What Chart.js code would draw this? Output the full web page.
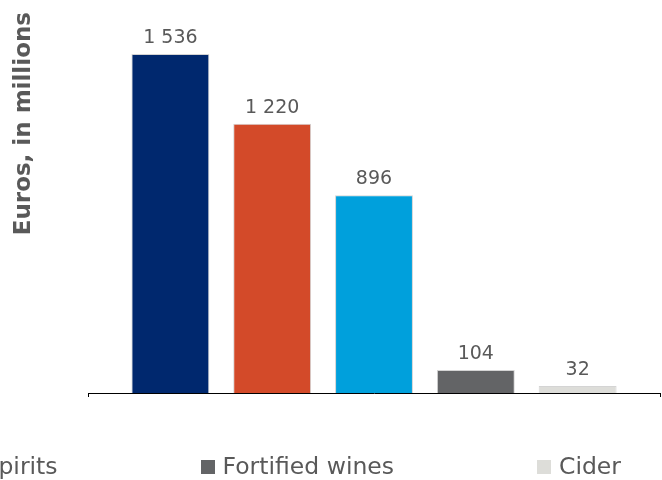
<!DOCTYPE html>
<html>
<head>
<meta charset="utf-8">
<title>Euros, in millions</title>
<script src="https://cdn.jsdelivr.net/npm/chart.js@4/dist/chart.umd.min.js"></script>
<style>
  html, body { margin: 0; padding: 0; background: #fff; overflow: hidden; }
  #wrap { position: relative; width: 662px; height: 480px; overflow: hidden; }
  #legend {
    position: absolute;
    top: 455px;
    right: 41px;
    display: flex;
    justify-content: flex-end;
    white-space: nowrap;
    font-family: "DejaVu Sans", sans-serif;
    font-size: 23.5px;
    line-height: 23px;
    color: #595959;
  }
  #legend .item { display: flex; align-items: center; margin-left: 143px; }
  #legend .item:first-child { margin-left: 0; }
  #legend .box { width: 14px; height: 14px; margin-right: 8px; }
</style>
</head>
<body>
<div id="wrap">
  <canvas id="chart" width="662" height="480"></canvas>
  <div id="legend"></div>
</div>
<script>
// series, one bar each
const seriesNames = ['Still wines', 'Sparkling wines', 'Spirits', 'Fortified wines', 'Cider'];
const seriesValues = [1536, 1220, 896, 104, 32];
const seriesColors = ['#00286e', '#d34a29', '#00a0dc', '#636466', '#ddddd9'];
const categories = [''];

// "1536" -> "1 536"
const fmt = (v) => String(v).replace(/\B(?=(\d{3})+(?!\d))/g, ' ');

// value above each bar
const barValues = {
  id: 'barValues',
  afterDatasetsDraw(chart) {
    const ctx = chart.ctx;
    ctx.save();
    ctx.font = '19px "DejaVu Sans", sans-serif';
    ctx.fillStyle = '#595959';
    ctx.textAlign = 'center';
    ctx.textBaseline = 'alphabetic';
    chart.data.datasets.forEach((ds, i) => {
      chart.getDatasetMeta(i).data.forEach((bar, j) => {
        ctx.fillText(fmt(ds.data[j]), bar.x, bar.y - 11);
      });
    });
    ctx.restore();
  }
};

// legend built as html so it can run past the edges
const htmlLegend = {
  id: 'htmlLegend',
  afterUpdate(chart) {
    const box = document.getElementById('legend');
    box.innerHTML = '';
    const items = chart.options.plugins.legend.labels.generateLabels(chart);
    items.forEach(item => {
      const el = document.createElement('div');
      el.className = 'item';
      const sw = document.createElement('span');
      sw.className = 'box';
      sw.style.background = item.fillStyle;
      const txt = document.createElement('span');
      txt.textContent = item.text;
      el.appendChild(sw);
      el.appendChild(txt);
      box.appendChild(el);
    });
  }
};

const datasets = seriesNames.map((name, i) => ({
  label: name,
  data: [seriesValues[i]],
  backgroundColor: seriesColors[i],
  borderColor: '#d4d4d4',
  borderWidth: 1,
  barPercentage: 0.765,
  categoryPercentage: 0.89,
}));

new Chart(document.getElementById('chart'), {
  type: 'bar',
  data: { labels: categories, datasets: datasets },
  options: {
    responsive: false,
    animation: false,
    layout: { padding: { left: 6, top: 12, right: 2, bottom: 83 } },
    scales: {
      x: {
        ticks: { display: false },
        grid: {
          display: true,
          drawOnChartArea: false,
          drawTicks: true,
          tickLength: 4,
          color: '#000',
        },
        border: { display: true, color: '#000', width: 1 },
      },
      y: {
        min: 0,
        max: 1726,
        ticks: { display: false },
        grid: { display: false },
        border: { display: false },
        title: {
          display: true,
          text: 'Euros, in millions',
          align: 'end',
          color: '#595959',
          font: { family: '"DejaVu Sans", sans-serif', size: 23, weight: 'bold' },
        },
        afterFit(scale) { scale.width = 82; },
      },
    },
    plugins: {
      legend: { display: false },
      tooltip: { enabled: false },
    },
  },
  plugins: [barValues, htmlLegend],
});
</script>
</body>
</html>
